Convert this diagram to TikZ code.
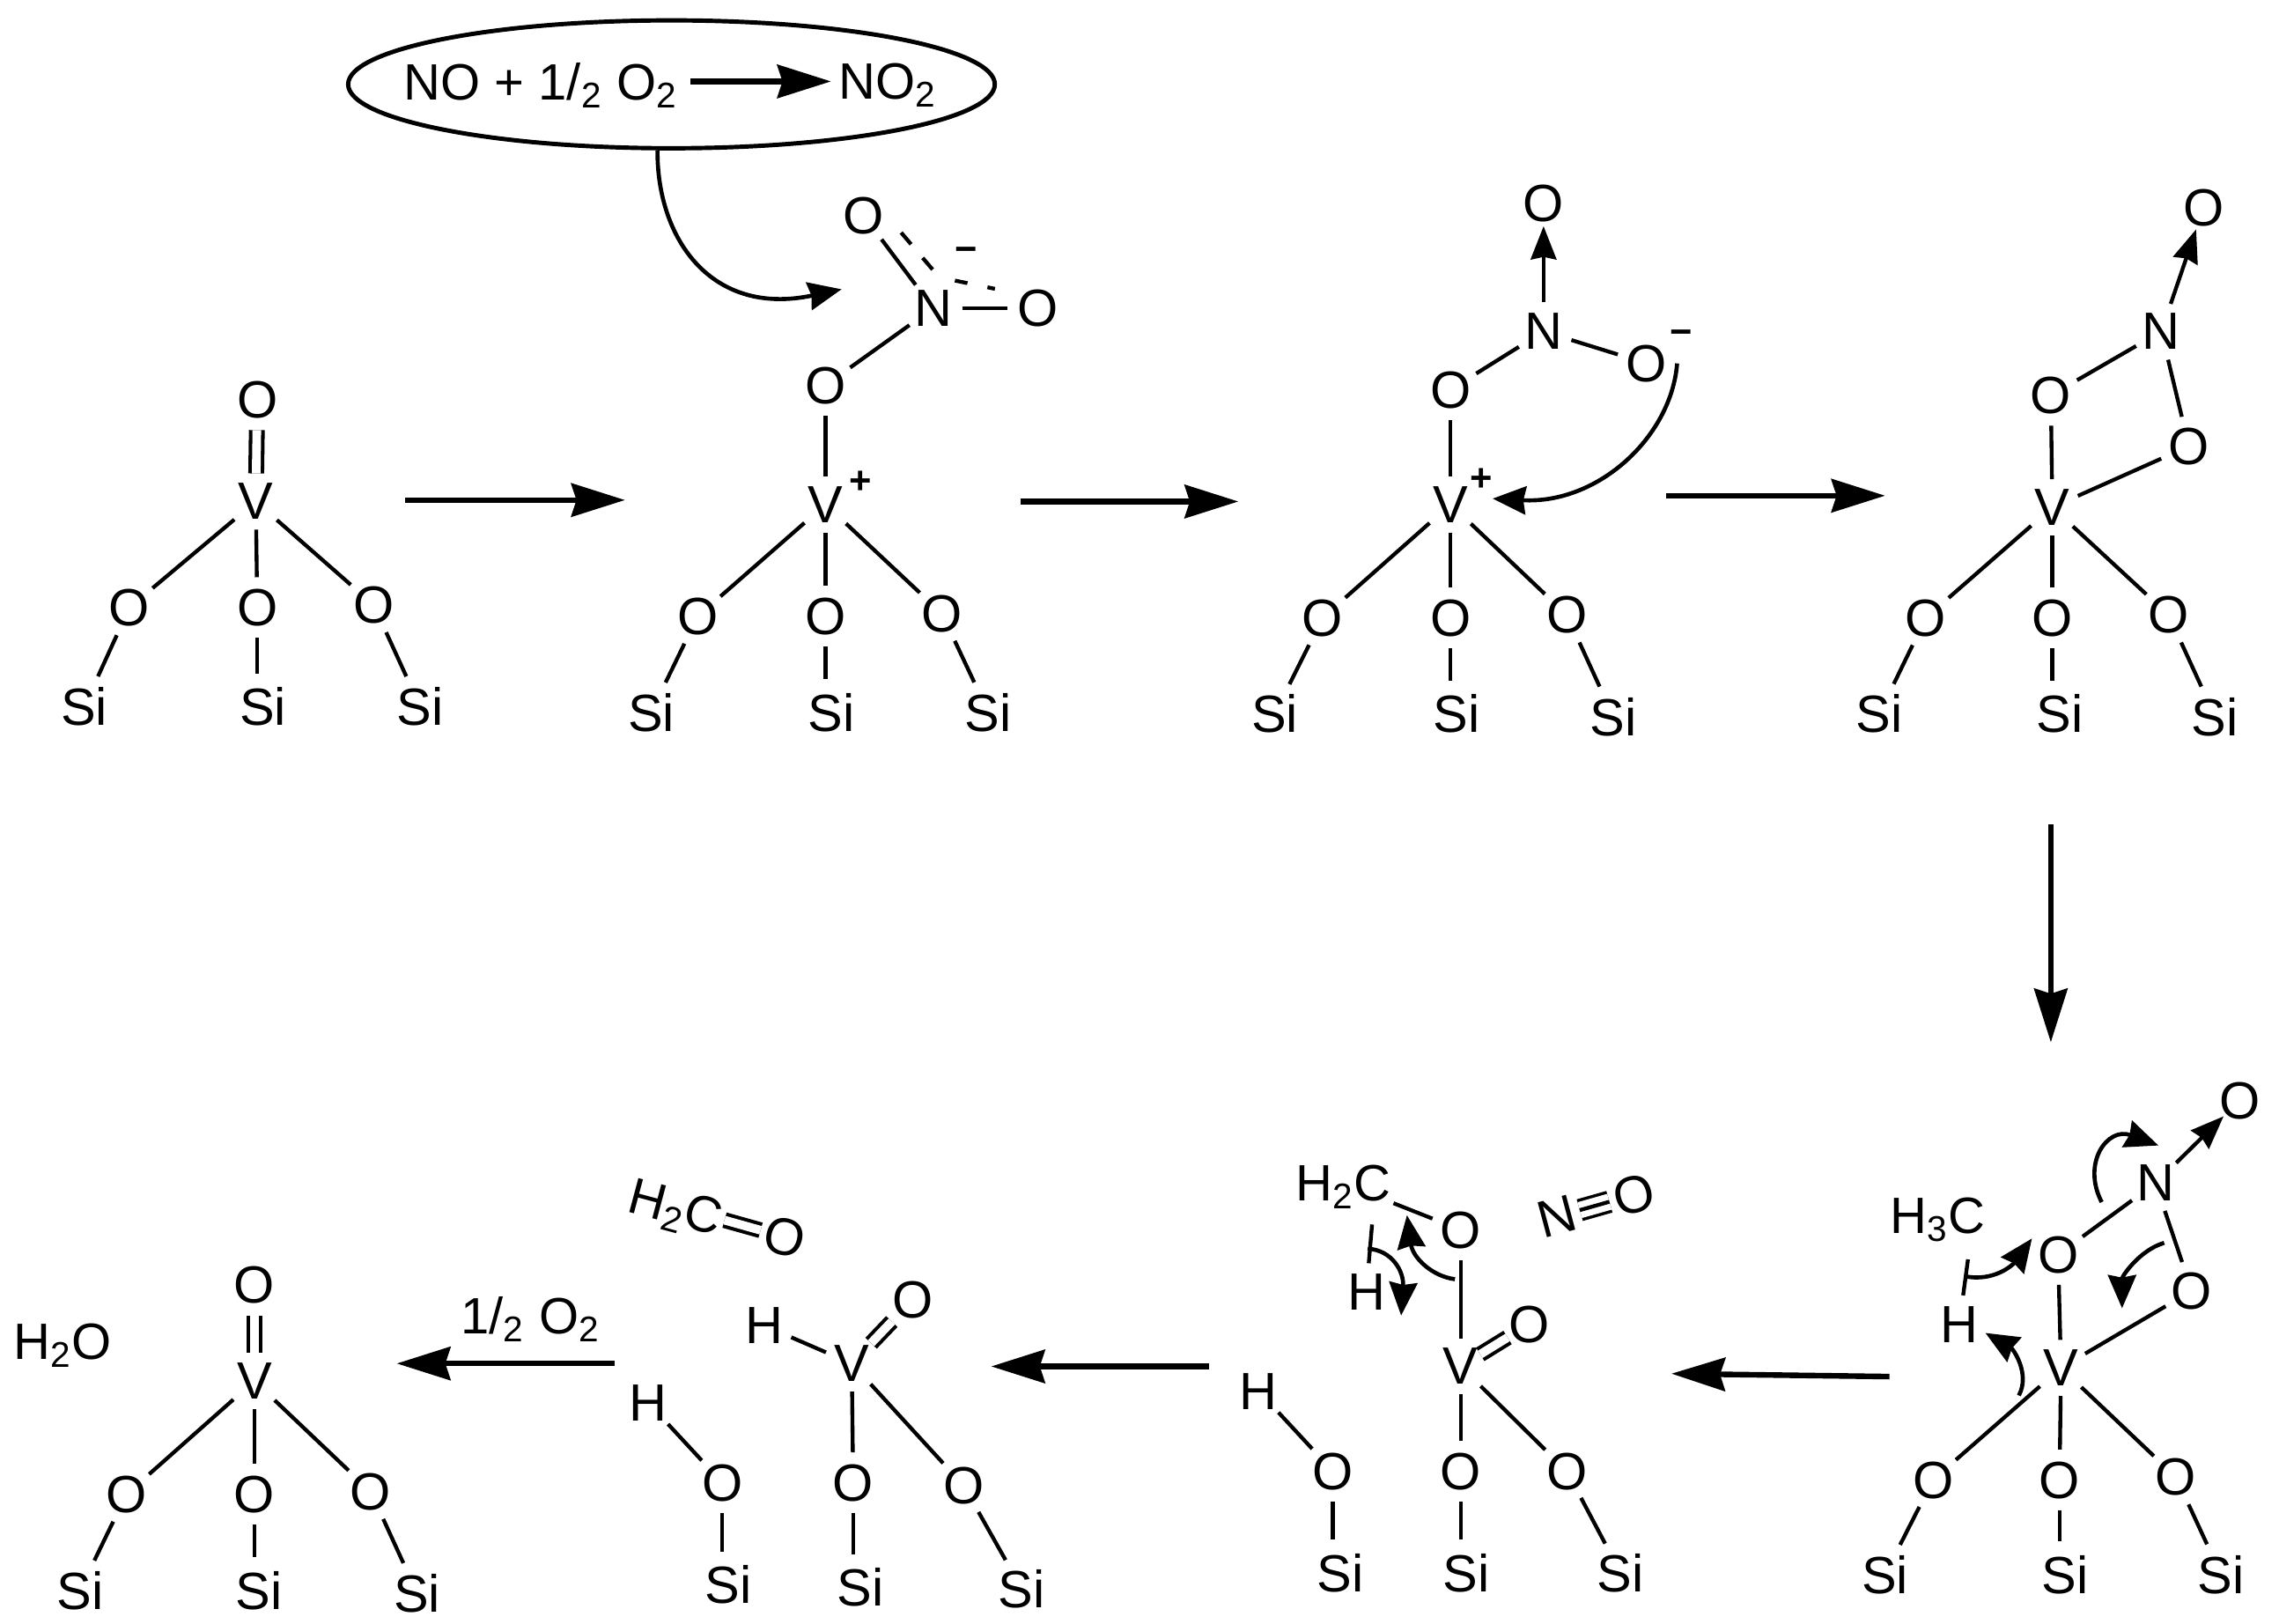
\documentclass[tikz,border=0pt]{standalone}
\usepackage{fontspec}
\setmainfont{Liberation Sans}
\usetikzlibrary{arrows.meta,shapes.geometric}
\tikzset{
  atom/.style={circle,inner sep=0.7pt,text depth=0pt,font=\fontsize{20.5}{24}\selectfont},
  group/.style={inner sep=1pt,text depth=0pt,font=\fontsize{20}{24}\selectfont},
  charge/.style={inner sep=0pt,font=\bfseries\fontsize{15}{18}\selectfont},
  bond/.style={line width=1.5pt},
  dbond/.style={line width=1.4pt,double,double distance=3.4pt},
  tbond/.style={line width=1.2pt,double,double distance=6.4pt,shorten <=-2pt,shorten >=-2pt},
  datv/.style={line width=1.5pt,shorten >=-3pt,-{Stealth[length=13pt,width=10pt,inset=1pt]}},
  bigarrow/.style={line width=2.2pt,-{Stealth[length=21pt,width=13pt,inset=2pt]}},
  curlarrow/.style={line width=1.6pt,-{Stealth[length=13pt,width=11pt,inset=1pt]}}
}
\begin{document}
\begin{tikzpicture}[x=0.02cm,y=-0.02cm]
  \useasboundingbox (0,0) rectangle (1568,1117);

  % oxidation of NO
  \node[ellipse,draw,line width=1.7pt,minimum width=8.9cm,minimum height=1.76cm,inner sep=0pt] (bubble) at (462,58) {};
  \node[group] (lhs) at (372,56) {NO + 1/\textsubscript{2} O\textsubscript{2}};
  \node[group] (rhs) at (611,56) {NO\textsubscript{2}};
  \draw[bigarrow,shorten <=4pt,shorten >=2pt] (lhs) -- (rhs);
  \coordinate (tip2) at (579,199);
  \draw[curlarrow] (bubble.258) .. controls (452,165) and (490,218) .. (tip2);

  % first structure
  \node[atom] (v1) at (176,345) {V};
  \node[atom] (ot1) at (177,275) {O};
  \node[atom] (ol1) at (89,418) {O};
  \node[atom] (om1) at (177,418) {O};
  \node[atom] (or1) at (257,416) {O};
  \node[atom] (sl1) at (58,486) {Si};
  \node[atom] (sm1) at (181,486) {Si};
  \node[atom] (sr1) at (289,486) {Si};
  \draw[dbond] (v1) -- (ot1);
  \draw[bond] (v1) -- (ol1);
  \draw[bond] (v1) -- (om1);
  \draw[bond] (v1) -- (or1);
  \draw[bond] (ol1) -- (sl1);
  \draw[bond] (om1) -- (sm1.north -| om1);
  \draw[bond] (or1) -- (sr1);

  \coordinate (a1s) at (279,344);
  \coordinate (a1e) at (430,344);
  \draw[bigarrow] (a1s) -- (a1e);

  % nitrate on the vanadium
  \node[atom] (v2) at (568,347) {V};
  \node[charge] (p2) at (592,332) {+};
  \node[atom] (ot2) at (568,265) {O};
  \node[atom] (n2) at (642,212) {N};
  \node[atom] (oa2) at (594,148) {O};
  \node[atom] (ob2) at (714,212) {O};
  \node[charge] (m2) at (665,175) {−};
  \node[atom] (ol2) at (480,424) {O};
  \node[atom] (om2) at (568,424) {O};
  \node[atom] (or2) at (648,422) {O};
  \node[atom] (sl2) at (448,490) {Si};
  \node[atom] (sm2) at (572,490) {Si};
  \node[atom] (sr2) at (680,490) {Si};
  \draw[bond] (v2) -- (ot2);
  \draw[bond] (ot2) -- (n2);
  \draw[bond] (n2) -- (oa2);
  \draw[bond] (n2) -- (ob2);
  \coordinate (d2a) at (620,160);
  \coordinate (d2b) at (643,187);
  \coordinate (d2c) at (657,193);
  \coordinate (d2d) at (686,199);
  \draw[bond,dash pattern=on 6pt off 7pt on 6pt off 9pt] (d2a) -- (d2b);
  \draw[bond,dash pattern=on 5pt off 8pt on 3pt off 9pt] (d2c) -- (d2d);
  \draw[bond] (v2) -- (ol2);
  \draw[bond] (v2) -- (om2);
  \draw[bond] (v2) -- (or2);
  \draw[bond] (ol2) -- (sl2);
  \draw[bond] (om2) -- (sm2.north -| om2);
  \draw[bond] (or2) -- (sr2);

  \coordinate (a2s) at (702,345);
  \coordinate (a2e) at (852,345);
  \draw[bigarrow] (a2s) -- (a2e);

  % nitrite with free oxygen
  \node[atom] (v3) at (998,347) {V};
  \node[charge] (p3) at (1019,330) {+};
  \node[atom] (ot3) at (998,268) {O};
  \node[atom] (n3) at (1062,228) {N};
  \node[atom] (oa3) at (1062,140) {O};
  \node[atom] (ob3) at (1133,250) {O};
  \node[charge] (m3) at (1157,232) {−};
  \node[atom] (ol3) at (910,425) {O};
  \node[atom] (om3) at (998,425) {O};
  \node[atom] (or3) at (1078,423) {O};
  \node[atom] (sl3) at (877,491) {Si};
  \node[atom] (sm3) at (1002,491) {Si};
  \node[atom] (sr3) at (1110,493) {Si};
  \draw[bond] (v3) -- (ot3);
  \draw[bond] (ot3) -- (n3);
  \draw[datv] (n3) -- (oa3);
  \draw[bond] (n3) -- (ob3);
  \draw[bond] (v3) -- (ol3);
  \draw[bond] (v3) -- (om3);
  \draw[bond] (v3) -- (or3);
  \draw[bond] (ol3) -- (sl3);
  \draw[bond] (om3) -- (sm3.north -| om3);
  \draw[bond] (or3) -- (sr3);
  \coordinate (tip3) at (1027,343);
  \draw[curlarrow] (ob3.east) .. controls (1150,300) and (1100,347) .. (tip3);

  \coordinate (a3s) at (1146,341);
  \coordinate (a3e) at (1297,341);
  \draw[bigarrow] (a3s) -- (a3e);

  % ring closed
  \node[atom] (v4) at (1412,349) {V};
  \node[atom] (ot4) at (1411,272) {O};
  \node[atom] (n4) at (1487,228) {N};
  \node[atom] (oa4) at (1516,143) {O};
  \node[atom] (ob4) at (1506,307) {O};
  \node[atom] (ol4) at (1325,425) {O};
  \node[atom] (om4) at (1412,425) {O};
  \node[atom] (or4) at (1492,423) {O};
  \node[atom] (sl4) at (1293,491) {Si};
  \node[atom] (sm4) at (1417,491) {Si};
  \node[atom] (sr4) at (1524,493) {Si};
  \draw[bond] (v4) -- (ot4);
  \draw[bond] (ot4) -- (n4);
  \draw[datv] (n4) -- (oa4);
  \draw[bond] (n4) -- (ob4);
  \draw[bond] (v4) -- (ob4);
  \draw[bond] (v4) -- (ol4);
  \draw[bond] (v4) -- (om4);
  \draw[bond] (v4) -- (or4);
  \draw[bond] (ol4) -- (sl4);
  \draw[bond] (om4) -- (sm4.north -| om4);
  \draw[bond] (or4) -- (sr4);

  \coordinate (a4s) at (1411,567);
  \coordinate (a4e) at (1411,717);
  \draw[bigarrow] (a4s) -- (a4e);

  % methyl attack
  \node[atom] (v5) at (1418,941) {V};
  \node[atom] (ot5) at (1416,863) {O};
  \node[atom] (n5) at (1483,814) {N};
  \node[atom] (oa5) at (1541,757) {O};
  \node[atom] (ob5) at (1508,888) {O};
  \node[group] (ch5) at (1333,836) {H\textsubscript{3}C};
  \node[atom] (h5) at (1348,911) {H};
  \node[atom] (ol5) at (1330,1018) {O};
  \node[atom] (om5) at (1417,1018) {O};
  \node[atom] (or5) at (1497,1016) {O};
  \node[atom] (sl5) at (1297,1083) {Si};
  \node[atom] (sm5) at (1421,1083) {Si};
  \node[atom] (sr5) at (1528,1083) {Si};
  \draw[bond] (v5) -- (ot5);
  \draw[bond] (ot5) -- (n5);
  \draw[datv] (n5) -- (oa5);
  \draw[bond] (n5) -- (ob5);
  \draw[bond] (v5) -- (ob5);
  \draw[bond] (ch5.south) ++(21,16) -- (h5);
  \draw[bond] (v5) -- (ol5);
  \draw[bond] (v5) -- (om5);
  \draw[bond] (v5) -- (or5);
  \draw[bond] (ol5) -- (sl5);
  \draw[bond] (om5) -- (sm5.north -| om5);
  \draw[bond] (or5) -- (sr5);
  \coordinate (c5a) at (1352,878);
  \coordinate (c5b) at (1398,852);
  \coordinate (c5c) at (1389,960);
  \coordinate (c5d) at (1366,917);
  \coordinate (c5e) at (1446,827);
  \coordinate (c5f) at (1485,788);
  \coordinate (c5g) at (1489,855);
  \coordinate (c5h) at (1460,900);
  \draw[curlarrow] (c5a) .. controls (1372,882) and (1385,870) .. (c5b);
  \draw[curlarrow] (c5c) .. controls (1397,945) and (1385,928) .. (c5d);
  \draw[curlarrow] (c5e) .. controls (1432,800) and (1450,775) .. (c5f);
  \draw[curlarrow] (c5g) .. controls (1472,860) and (1460,878) .. (c5h);

  \coordinate (a5s) at (1300,947);
  \coordinate (a5e) at (1150,945);
  \draw[bigarrow] (a5s) -- (a5e);

  % NO leaves
  \node[atom] (v6) at (1005,940) {V};
  \node[atom] (ot6) at (1005,846) {O};
  \node[group] (ch6) at (924,814) {H\textsubscript{2}C};
  \node[atom] (h6) at (940,889) {H};
  \node[atom] (oa6) at (1052,911) {O};
  \node[atom,rotate=15] (no6) at (1071,837) {N};
  \node[atom,rotate=15] (oo6) at (1124,822) {O};
  \node[atom] (hs6) at (866,957) {H};
  \node[atom] (ol6) at (917,1012) {O};
  \node[atom] (om6) at (1005,1012) {O};
  \node[atom] (or6) at (1078,1012) {O};
  \node[atom] (sl6) at (922,1082) {Si};
  \node[atom] (sm6) at (1009,1082) {Si};
  \node[atom] (sr6) at (1115,1082) {Si};
  \draw[bond] (v6) -- (ot6);
  \draw[bond] (ch6) -- (ot6);
  \draw[bond] (ch6.south) ++(20,14) -- (h6);
  \draw[dbond,shorten <=-2pt,shorten >=-2pt] (v6) -- (oa6);
  \draw[tbond] (no6) -- (oo6);
  \draw[bond,shorten <=-2pt,shorten >=-2pt] (no6) -- (oo6);
  \draw[bond] (hs6) -- (ol6);
  \draw[bond] (v6) -- (om6);
  \draw[bond] (v6) -- (or6);
  \draw[bond] (ol6) -- (sl6.north -| ol6);
  \draw[bond] (om6) -- (sm6.north -| om6);
  \draw[bond] (or6) -- (sr6);
  \coordinate (c6a) at (941,859);
  \coordinate (c6b) at (964,905);
  \coordinate (c6c) at (1001,880);
  \coordinate (c6d) at (968,836);
  \draw[curlarrow] (c6a) .. controls (958,860) and (966,875) .. (c6b);
  \draw[curlarrow] (c6c) .. controls (985,878) and (972,865) .. (c6d);

  \coordinate (a6s) at (832,940);
  \coordinate (a6e) at (682,940);
  \draw[bigarrow] (a6s) -- (a6e);

  % formaldehyde leaves
  \node[group,rotate=-15] (ch7) at (465,830) {H\textsubscript{2}C};
  \node[atom,rotate=-15] (oc7) at (540,851) {O};
  \node[atom] (v7) at (586,938) {V};
  \node[atom] (hv7) at (526,912) {H};
  \node[atom] (oa7) at (628,894) {O};
  \node[atom] (hs7) at (446,965) {H};
  \node[atom] (ol7) at (497,1020) {O};
  \node[atom] (om7) at (587,1020) {O};
  \node[atom] (or7) at (663,1022) {O};
  \node[atom] (sl7) at (501,1090) {Si};
  \node[atom] (sm7) at (592,1092) {Si};
  \node[atom] (sr7) at (703,1093) {Si};
  \draw[dbond,shorten >=-2pt] (ch7) -- (oc7);
  \draw[bond] (hv7) -- (v7);
  \draw[dbond] (v7) -- (oa7);
  \draw[bond] (hs7) -- (ol7);
  \draw[bond] (v7) -- (om7);
  \draw[bond] (v7) -- (or7);
  \draw[bond] (ol7) -- (sl7.north -| ol7);
  \draw[bond] (om7) -- (sm7.north -| om7);
  \draw[bond] (or7) -- (sr7);

  \coordinate (a7s) at (423,938);
  \coordinate (a7e) at (273,938);
  \draw[bigarrow] (a7s) -- (a7e);
  \node[group] (half7) at (365,905) {1/\textsubscript{2} O\textsubscript{2}};

  % regenerated site
  \node[group] (wat8) at (43,923) {H\textsubscript{2}O};
  \node[atom] (v8) at (175,950) {V};
  \node[atom] (ot8) at (175,884) {O};
  \node[atom] (ol8) at (87,1028) {O};
  \node[atom] (om8) at (175,1028) {O};
  \node[atom] (or8) at (255,1026) {O};
  \node[atom] (sl8) at (55,1094) {Si};
  \node[atom] (sm8) at (178,1094) {Si};
  \node[atom] (sr8) at (287,1096) {Si};
  \draw[dbond] (v8) -- (ot8);
  \draw[bond] (v8) -- (ol8);
  \draw[bond] (v8) -- (om8);
  \draw[bond] (v8) -- (or8);
  \draw[bond] (ol8) -- (sl8);
  \draw[bond] (om8) -- (sm8.north -| om8);
  \draw[bond] (or8) -- (sr8);
\end{tikzpicture}
\end{document}
